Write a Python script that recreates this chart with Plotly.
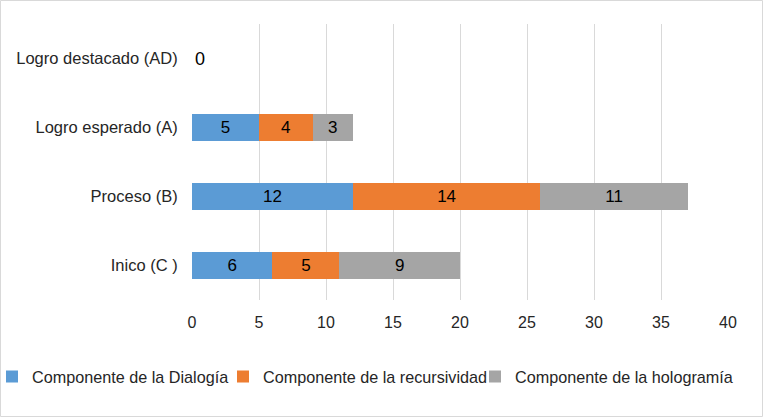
import plotly.graph_objects as go

categorias = ["Logro destacado (AD)", "Logro esperado (A)", "Proceso (B)", "Inico (C )"]
dialogia = [0, 5, 12, 6]
recursividad = [0, 4, 14, 5]
holograma = [0, 3, 11, 9]

series = [
    ("Componente de la Dialogía", dialogia, "#5B9BD5"),
    ("Componente de la recursividad", recursividad, "#ED7D31"),
    ("Componente de la hologramía", holograma, "#A5A5A5"),
]

W, H = 763, 417
L, R, T, B = 192, 35, 24, 117
pw, ph = W - L - R, H - T - B

# posición (px) donde empieza el texto de cada leyenda
leyenda_px = [32, 263, 515]

fig = go.Figure()
for i, (nombre, valores, color) in enumerate(series):
    # solo la primera serie muestra el 0 fuera de la barra
    textos = [str(v) if (v > 0 or i == 0) else "" for v in valores]
    posiciones = ["inside" if v > 0 else "outside" for v in valores]
    fig.add_trace(go.Bar(
        y=categorias, x=valores, name=nombre, orientation="h",
        marker=dict(color=color, line=dict(width=0)),
        text=textos, textposition=posiciones,
        insidetextanchor="middle", cliponaxis=False,
        textfont=dict(family="Liberation Sans, Arial", size=17, color="#000000"),
        outsidetextfont=dict(family="Liberation Sans, Arial", size=18, color="#000000"),
        legend="legend" if i == 0 else "legend%d" % (i + 1),
    ))

leg_y = (T + ph - 377) / ph
legendas = {}
for i, px in enumerate(leyenda_px):
    key = "legend" if i == 0 else "legend%d" % (i + 1)
    legendas[key] = dict(x=(px - 40 - L) / pw, xanchor="left", y=leg_y, yanchor="middle",
                         orientation="h", font=dict(size=16.2, color="#262626"),
                         bgcolor="rgba(0,0,0,0)", itemwidth=30)

fig.update_layout(
    barmode="stack",
    bargap=0.61,
    width=W, height=H,
    margin=dict(l=L, r=R, t=T, b=B, autoexpand=False),
    paper_bgcolor="white", plot_bgcolor="white",
    font=dict(family="Liberation Sans, Arial", size=16, color="#262626"),
    showlegend=True,
    **legendas,
)
fig.update_xaxes(range=[0, 40], dtick=5, showgrid=True, gridcolor="#d9d9d9", gridwidth=1.3,
                 zeroline=False, showline=False, ticks="outside", ticklen=8,
                 tickcolor="rgba(0,0,0,0)", tickfont=dict(size=16), automargin=False)
fig.update_yaxes(autorange="reversed", showgrid=False, zeroline=False, showline=False,
                 ticks="outside", ticklen=10, tickcolor="rgba(0,0,0,0)",
                 tickfont=dict(size=16.5), automargin=False)

# borde exterior del gráfico
fig.add_shape(type="rect", xref="paper", yref="paper",
              x0=(0.5 - L) / pw, x1=(W - 0.5 - L) / pw,
              y0=(T + ph - (H - 0.5)) / ph, y1=(T + ph - 0.5) / ph,
              line=dict(color="#d9d9d9", width=1), layer="below")

fig.write_html("out.html", config={"displayModeBar": False},
               post_script="document.body.style.margin='0';")
